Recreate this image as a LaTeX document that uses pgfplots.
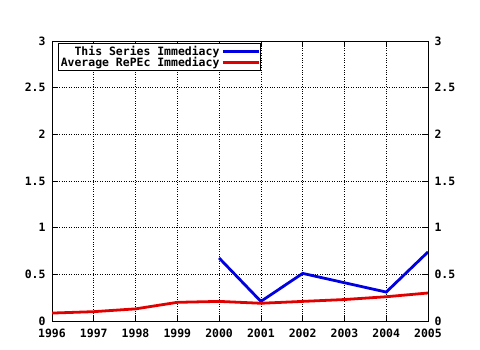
\documentclass[border=0pt]{standalone}
\usepackage{fontspec}
\setmainfont{DejaVu Sans Mono}
\usepackage{pgfplots}
\pgfplotsset{compat=1.18}
\definecolor{gblue}{RGB}{0,0,225}
\definecolor{gred}{RGB}{225,0,0}
\begin{document}
\begin{tikzpicture}
\useasboundingbox (0,0) rectangle (480bp,350bp);
\pgfplotsset{
  common/.style={
    at={(52bp,29bp)}, anchor=south west,
    scale only axis, width=376bp, height=280bp,
    xmin=1996, xmax=2005, ymin=0, ymax=3,
    xtick={1996,...,2005}, ytick={0,0.5,1,1.5,2,2.5,3},
    minor x tick num=1,
    tick style={black, line width=0.6pt},
    major tick length=6bp, minor tick length=3bp,
    tick align=inside,
    axis line style={black, line width=0.8pt},
    /pgf/number format/assume math mode=true,
    /pgf/number format/1000 sep={},
    tick label style={font=\fontsize{11.5}{12}\selectfont\bfseries},
  }
}
\begin{axis}[common,
  grid=major, grid style={black, dotted, line width=0.6pt},
  xticklabel style={yshift=-4.5bp},
  yticklabel style={xshift=-3bp},
  legend style={at={(6bp,278bp)}, anchor=north west, draw=black, line width=0.6pt,
    font=\fontsize{11.5}{12}\selectfont\bfseries, inner sep=0.5pt, row sep=-3.5pt,
    /tikz/every even column/.append style={column sep=3pt}},
  legend cell align=right, legend plot pos=right,
  legend image code/.code={\draw[#1, line width=2.8pt] (0bp,0bp) -- (36bp,0bp);},
]
\addplot[gblue, line width=2.8pt] coordinates {
 (2000,0.675) (2001,0.21) (2002,0.51) (2004,0.31) (2005,0.74)};
\addlegendentry{This Series Immediacy}
\addplot[gred, line width=2.8pt] coordinates {
 (1996,0.085) (1997,0.1) (1998,0.13) (1999,0.2) (2000,0.21) (2001,0.19) (2002,0.21) (2003,0.23) (2004,0.26) (2005,0.3)};
\addlegendentry{Average RePEc Immediacy}
\end{axis}
\begin{axis}[common, axis y line*=right, axis x line=none, yticklabel pos=right,
  xticklabels={}, yticklabel style={xshift=3bp}]
\addplot[draw=none] coordinates {(2000,0)};
\end{axis}
\end{tikzpicture}
\end{document}
